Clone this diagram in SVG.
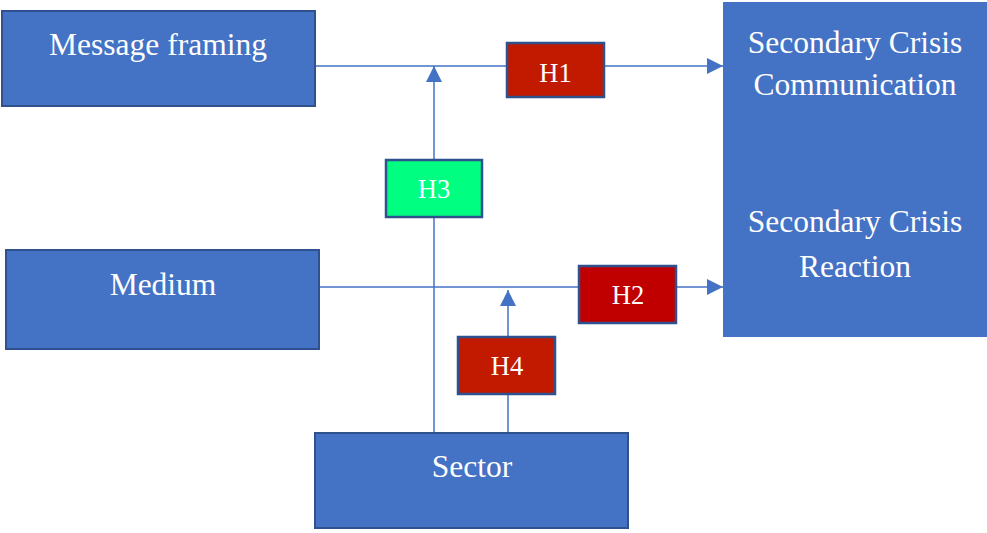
<svg xmlns="http://www.w3.org/2000/svg" width="987" height="533" viewBox="0 0 987 533">
<style>
.box{fill:#4472C4;stroke:#2F528F;stroke-width:2}
.red{fill:#C21A00;stroke:#2F528F;stroke-width:2.5}
.red2{fill:#C00000;stroke:#2F528F;stroke-width:2.5}
.green{fill:#00FF80;stroke:#2F528F;stroke-width:2.5}
text{font-family:'Liberation Serif',Tinos,'Times New Roman',Times,serif;fill:#FFFFFF;text-anchor:middle}
.big{font-size:31.5px}
.h{font-size:26.5px}
.con{stroke:#4472C4;stroke-width:1.5;fill:none}
</style>
<defs>
<marker id="arr" viewBox="0 0 16 16" refX="16" refY="8" markerWidth="16" markerHeight="16" markerUnits="userSpaceOnUse" orient="auto">
<path d="M0,0 L16,8 L0,16 Z" fill="#4472C4"/>
</marker>
</defs>
<rect width="987" height="533" fill="#FFFFFF"/>
<g id="connectors">
<line class="con" x1="315" y1="66" x2="723" y2="66" marker-end="url(#arr)"/>
<line class="con" x1="319" y1="287" x2="723" y2="287" marker-end="url(#arr)"/>
<line class="con" x1="434" y1="433" x2="434" y2="66" marker-end="url(#arr)"/>
<line class="con" x1="508" y1="433" x2="508" y2="290" marker-end="url(#arr)"/>
</g>
<g id="message-framing">
<rect class="box" x="2" y="11" width="313" height="95"/>
<text class="big" x="158" y="55" font-family="Liberation Serif, serif">Message framing</text>
</g>
<g id="medium">
<rect class="box" x="6" y="250" width="313" height="99"/>
<text class="big" x="163" y="295">Medium</text>
</g>
<g id="sector">
<rect class="box" x="315" y="433" width="313" height="95"/>
<text class="big" x="472" y="477">Sector</text>
</g>
<g id="secondary">
<rect x="723" y="2" width="264" height="335" fill="#4472C4"/>
<text class="big" x="855" y="53">Secondary Crisis</text>
<text class="big" x="855" y="95">Communication</text>
<text class="big" x="855" y="232">Secondary Crisis</text>
<text class="big" x="855" y="277">Reaction</text>
</g>
<g id="h1">
<rect class="red" x="507" y="43" width="97" height="54"/>
<text class="h" x="555.5" y="82">H1</text>
</g>
<g id="h3">
<rect class="green" x="386" y="160" width="96" height="57"/>
<text class="h" x="434" y="198">H3</text>
</g>
<g id="h2">
<rect class="red2" x="579" y="266" width="97" height="57"/>
<text class="h" x="628" y="304">H2</text>
</g>
<g id="h4">
<rect class="red" x="458" y="337" width="97" height="57"/>
<text class="h" x="507" y="375">H4</text>
</g>
</svg>
